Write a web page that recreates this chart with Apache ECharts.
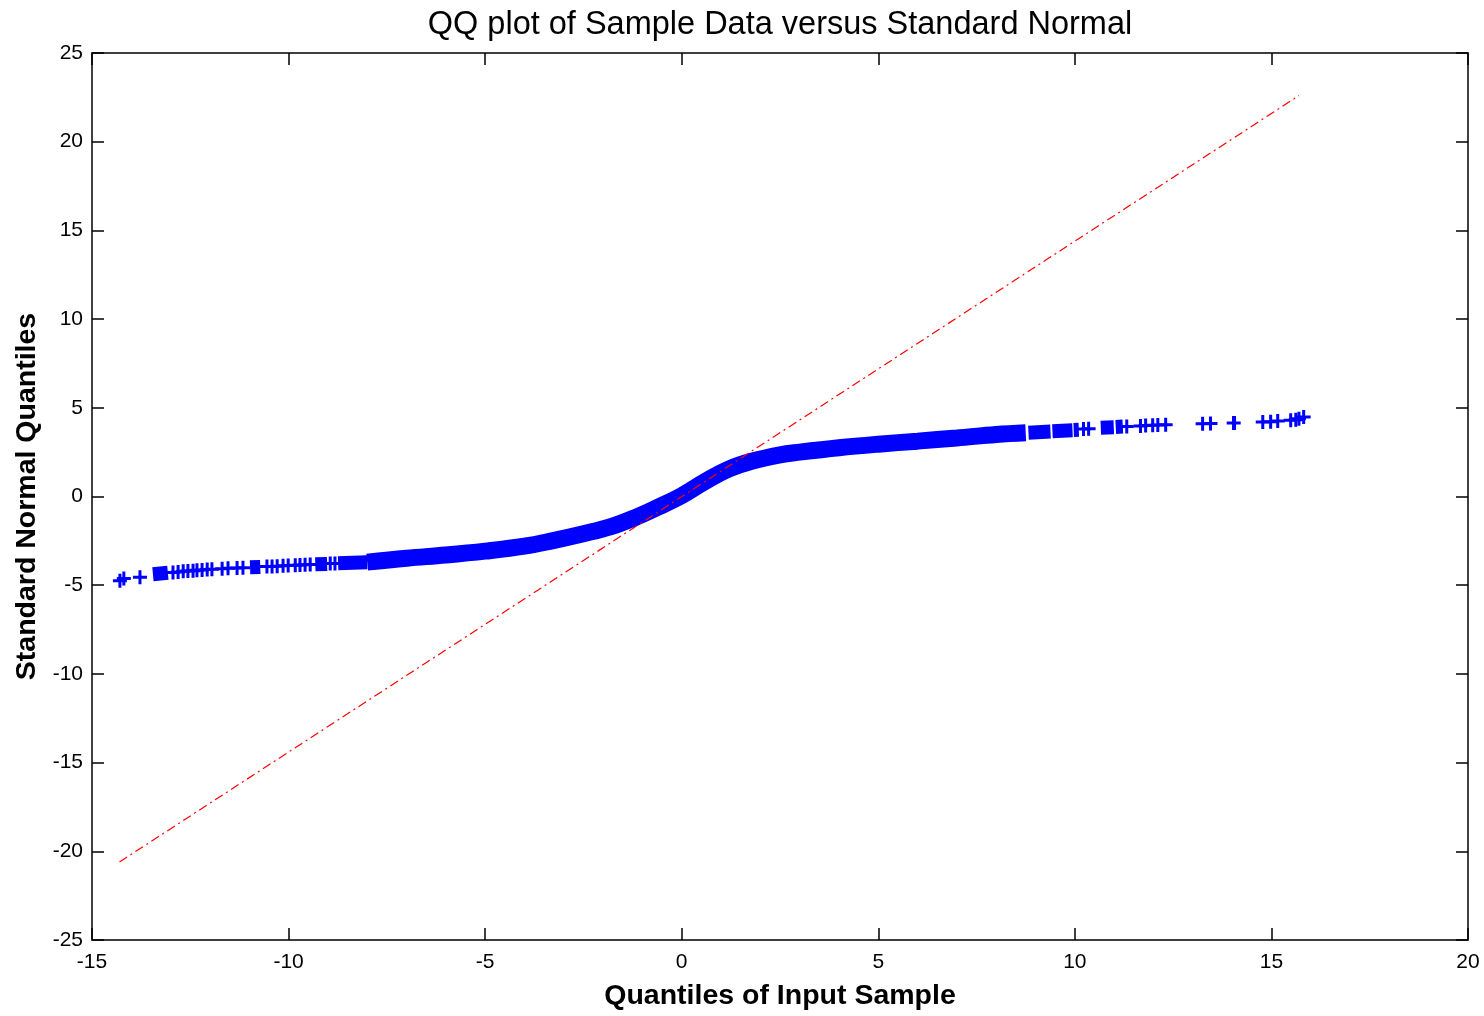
<!DOCTYPE html>
<html>
<head>
<meta charset="utf-8">
<script src="https://cdn.jsdelivr.net/npm/echarts@6/dist/echarts.min.js"></script>
<style>
html,body{margin:0;padding:0;background:#fff;}
#chart{width:1484px;height:1016px;}
</style>
</head>
<body>
<div id="chart"></div>
<script>
// ---- Data ----
const titleText = 'QQ plot of Sample Data versus Standard Normal';
const xName = 'Quantiles of Input Sample';
const yName = 'Standard Normal Quantiles';

// dense central band of the QQ points (centre line)
const bandX = [-8.0, -7.0, -6.0, -5.0, -4.0, -3.3, -2.5, -1.8, -1.2, -0.6, 0.0, 0.6, 1.2, 1.8, 2.5, 3.0, 4.0, 5.0, 6.0, 7.0, 8.0, 8.75];
const bandY = [-3.70, -3.48, -3.30, -3.08, -2.80, -2.50, -2.10, -1.70, -1.20, -0.60, 0.05, 0.85, 1.55, 2.00, 2.35, 2.50, 2.75, 2.95, 3.12, 3.30, 3.50, 3.60];

// solid clusters of overlapping markers (start/end)
const blockX0 = [-13.45, -10.98, -9.32, -8.74, 8.82, 9.43, 9.97, 10.66, 11.04, 14.00];
const blockX1 = [-13.07, -10.72, -9.02, -8.0, 9.38, 9.94, 10.10, 10.99, 11.22, 14.10];
const blockY0 = [-4.38, -3.99, -3.82, -3.76, 3.60, 3.68, 3.75, 3.87, 3.92, 4.15];
const blockY1 = [-4.30, -3.97, -3.80, -3.70, 3.66, 3.73, 3.76, 3.90, 3.94, 4.15];

// isolated "+" markers in the tails
const tailX = [-14.29, -14.19, -13.78, -12.94, -12.81, -12.68, -12.56, -12.43, -12.33, -12.20, -12.07, -11.95, -11.69, -11.54, -11.31, -11.16,
  -10.55, -10.42, -10.29, -10.14, -10.01, -9.83, -9.71, -9.58, -9.45, -8.94, -8.82,
  10.22, 10.35, 11.32, 11.67, 11.80, 11.98, 12.11, 12.31, 13.25, 13.45, 14.04, 14.78, 14.98, 15.16, 15.49, 15.62, 15.70, 15.82];
const tailY = [-4.75, -4.62, -4.55, -4.28, -4.25, -4.22, -4.20, -4.18, -4.16, -4.14, -4.12, -4.10, -4.07, -4.05, -4.03, -4.01,
  -3.95, -3.94, -3.93, -3.90, -3.89, -3.87, -3.86, -3.85, -3.83, -3.78, -3.77,
  3.80, 3.82, 3.95, 3.98, 4.00, 4.02, 4.03, 4.05, 4.10, 4.12, 4.15, 4.20, 4.22, 4.25, 4.30, 4.33, 4.38, 4.48];

// red dash-dot reference line endpoints
const refX = [-14.3, 15.7];
const refY = [-20.6, 22.6];

// axis ranges
const xMin = -15, xMax = 20, xStep = 5;
const yMin = -25, yMax = 25, yStep = 5;

// ---- Build series ----
const bandData = bandX.map((x, i) => [x, bandY[i]]);
const blockData = [];
blockX0.forEach((x, i) => {
  blockData.push([x, blockY0[i]]);
  blockData.push([blockX1[i], blockY1[i]]);
  blockData.push([blockX1[i], '-']);
});
const tailData = tailX.map((x, i) => [x, tailY[i]]);
const refData = refX.map((x, i) => [x, refY[i]]);

const BLUE = '#0000ff';
const plusPath = 'path://M5.5,0h3v5.5h5.5v3h-5.5v5.5h-3v-5.5h-5.5v-3h5.5z';

const chart = echarts.init(document.getElementById('chart'), null, {renderer: 'canvas'});
const FONT = 'Liberation Sans, Arial, sans-serif';
const labelFont = {color: '#000', fontFamily: FONT, fontSize: 21};
const baseAxisLine = {show: true, onZero: false, lineStyle: {color: '#000', width: 1.5}};
const baseTick = {show: true, inside: true, length: 12, lineStyle: {color: '#000', width: 1.5}};

chart.setOption({
  animation: false,
  backgroundColor: '#fff',
  title: {
    text: titleText,
    left: 775,
    textAlign: 'center',
    top: 4,
    textStyle: {color: '#000', fontFamily: FONT, fontSize: 32.5, fontWeight: 'normal'}
  },
  grid: {left: 92, right: 16, top: 53, bottom: 73, containLabel: false},
  xAxis: [{
    type: 'value', min: xMin, max: xMax, interval: xStep, position: 'bottom',
    name: xName, nameLocation: 'middle', nameGap: 42,
    nameTextStyle: {color: '#000', fontFamily: FONT, fontSize: 28.5, fontWeight: 'bold'},
    axisLine: baseAxisLine, axisTick: baseTick,
    axisLabel: Object.assign({margin: 12, showMinLabel: true, showMaxLabel: true}, labelFont),
    splitLine: {show: false}
  }, {
    type: 'value', min: xMin, max: xMax, interval: xStep, position: 'top',
    axisLine: baseAxisLine, axisTick: baseTick, axisLabel: {show: false}, splitLine: {show: false}
  }],
  yAxis: [{
    type: 'value', min: yMin, max: yMax, interval: yStep, position: 'left',
    name: yName, nameLocation: 'middle', nameGap: 50,
    nameTextStyle: {color: '#000', fontFamily: FONT, fontSize: 28.5, fontWeight: 'bold'},
    axisLine: baseAxisLine, axisTick: baseTick,
    axisLabel: Object.assign({margin: 9, showMinLabel: true, showMaxLabel: true}, labelFont),
    splitLine: {show: false}
  }, {
    type: 'value', min: yMin, max: yMax, interval: yStep, position: 'right',
    axisLine: baseAxisLine, axisTick: baseTick, axisLabel: {show: false}, splitLine: {show: false}
  }],
  series: [{
    type: 'line', name: 'band', data: bandData, smooth: 0.4, symbol: 'none',
    lineStyle: {color: BLUE, width: 17, cap: 'butt'}, z: 2, silent: true
  }, {
    type: 'line', name: 'blocks', data: blockData, smooth: false, symbol: 'none', connectNulls: false,
    lineStyle: {color: BLUE, width: 14, cap: 'butt'}, z: 2, silent: true
  }, {
    type: 'scatter', name: 'tail', data: tailData, symbol: plusPath, symbolSize: 14,
    itemStyle: {color: BLUE, opacity: 1}, z: 3, silent: true
  }, {
    type: 'line', name: 'reference', data: refData, symbol: 'none',
    lineStyle: {color: '#ff0000', width: 1.2, type: [9, 4, 2, 4]}, z: 4, silent: true
  }]
});
</script>
</body>
</html>
